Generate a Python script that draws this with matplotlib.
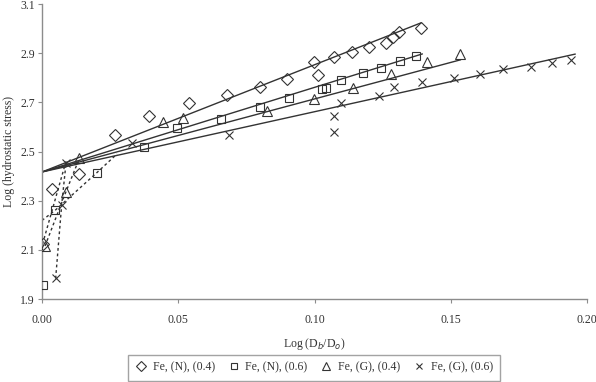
import matplotlib
matplotlib.use("Agg")
import matplotlib.pyplot as plt
import numpy as np

plt.rcParams["font.family"] = ["Liberation Serif", "DejaVu Serif"]

# measured points, Log(Db/Do) vs Log(hydrostatic stress)
fe_n_04_x = [0.0002, 0.0036, 0.0137, 0.0268, 0.0394, 0.0538, 0.0679, 0.0799, 0.0900,
             0.0997, 0.1012, 0.1073, 0.1137, 0.1201, 0.1262, 0.1287, 0.1309, 0.1390]
fe_n_04_y = [2.124, 2.346, 2.410, 2.567, 2.645, 2.696, 2.730, 2.762, 2.794,
             2.863, 2.813, 2.885, 2.906, 2.925, 2.943, 2.965, 2.985, 3.002]

fe_n_06_x = [0.0005, 0.0048, 0.0201, 0.0374, 0.0495, 0.0657, 0.0801, 0.0906,
             0.1029, 0.1041, 0.1096, 0.1179, 0.1243, 0.1315, 0.1372]
fe_n_06_y = [1.958, 2.261, 2.414, 2.520, 2.594, 2.632, 2.680, 2.719,
             2.753, 2.757, 2.789, 2.819, 2.840, 2.867, 2.889]

fe_g_04_x = [0.0011, 0.0088, 0.0137, 0.0445, 0.0516, 0.0824, 0.0997, 0.1142,
             0.1280, 0.1412, 0.1535]
fe_g_04_y = [2.116, 2.337, 2.472, 2.619, 2.636, 2.665, 2.714, 2.758,
             2.814, 2.864, 2.897]

fe_g_06_x = [0.0050, 0.0072, 0.0088, 0.0329, 0.0685, 0.1072, 0.1073, 0.1097, 0.1238,
             0.1292, 0.1393, 0.1513, 0.1608, 0.1691, 0.1793, 0.1870, 0.1940]
fe_g_06_y = [1.984, 2.282, 2.452, 2.536, 2.567, 2.581, 2.645, 2.699, 2.727,
             2.764, 2.784, 2.798, 2.817, 2.835, 2.845, 2.859, 2.872]

# linear fits: common intercept, slope, end of fitted range
fit_intercept = 2.417
fit_slopes = [4.36, 3.44, 2.97, 2.45]
fit_x_end = [0.139, 0.1395, 0.1535, 0.1956]

# dashed transition curves at small strain
dash_n_04_x = [0.0002, 0.0088]
dash_n_04_y = [2.124, 2.46]
dash_n_06_x = [0.0, 0.0048, 0.0201, 0.0275]
dash_n_06_y = [2.22, 2.261, 2.414, 2.49]
dash_g_04_x = [0.0011, 0.0088, 0.0137]
dash_g_04_y = [2.116, 2.337, 2.472]
dash_g_06_x = [0.0050, 0.0072, 0.0088]
dash_g_06_y = [1.984, 2.282, 2.452]

labels = ["Fe, (N), (0.4)", "Fe, (N), (0.6)", "Fe, (G), (0.4)", "Fe, (G), (0.6)"]
markers = ["D", "s", "^", "x"]
sizes = [6.5, 6, 6.5, 6]

ink = "#333333"
grey = "#8c8c8c"

fig = plt.figure(figsize=(5.96, 3.82), dpi=100)
ax = fig.add_axes([0.0705, 0.217, 0.9145, 0.7725])

xs = [fe_n_04_x, fe_n_06_x, fe_g_04_x, fe_g_06_x]
ys = [fe_n_04_y, fe_n_06_y, fe_g_04_y, fe_g_06_y]
dxs = [dash_n_04_x, dash_n_06_x, dash_g_04_x, dash_g_06_x]
dys = [dash_n_04_y, dash_n_06_y, dash_g_04_y, dash_g_06_y]

for i in range(4):
    # fitted line
    fx = np.array([0.0, fit_x_end[i]])
    ax.plot(fx, fit_intercept + fit_slopes[i] * fx, color=ink, lw=1.0, zorder=2)
    ax.plot(dxs[i], dys[i], color=ink, lw=1.0, ls=(0, (2, 2)), zorder=2)
    ax.plot(xs[i], ys[i], ls="none", marker=markers[i], ms=sizes[i],
            mfc="none", mec=ink, mew=0.8, label=labels[i], zorder=3)

ax.set_xlim(0, 0.20)
ax.set_ylim(1.9, 3.1)
ax.set_xticks([0.0, 0.05, 0.10, 0.15, 0.20])
ax.set_xticklabels(["0.00", "0.05", "0.10", "0.15", "0.20"])
ax.set_yticks([1.9, 2.1, 2.3, 2.5, 2.7, 2.9, 3.1])
ax.set_yticklabels(["1.9", "2.1", "2.3", "2.5", "2.7", "2.9", "3.1"])

for s in ["top", "right"]:
    ax.spines[s].set_visible(False)
for s in ["left", "bottom"]:
    ax.spines[s].set_color(grey)
    ax.spines[s].set_linewidth(1.0)
ax.tick_params(direction="out", length=3, width=0.8, color=grey,
               labelsize=8.5, labelcolor=ink)
ax.tick_params(axis="x", pad=8)
ax.tick_params(axis="y", pad=2)

ax.set_xlabel(r"Log (D$_b$/D$_o$)", fontsize=8.5, color=ink, labelpad=7)
ax.set_ylabel("Log (hydrostatic stress)", fontsize=8.5, color=ink, labelpad=4)

leg = fig.legend(loc="lower center", bbox_to_anchor=(0.527, -0.012), ncol=4,
                 fontsize=8.5, frameon=True, fancybox=False, edgecolor=grey,
                 handlelength=1.0, handletextpad=0.5, columnspacing=1.1,
                 markerscale=0.8, borderpad=0.6)
leg.get_frame().set_linewidth(1.0)
for t in leg.get_texts():
    t.set_color(ink)

fig.savefig("out.png", dpi=100)
